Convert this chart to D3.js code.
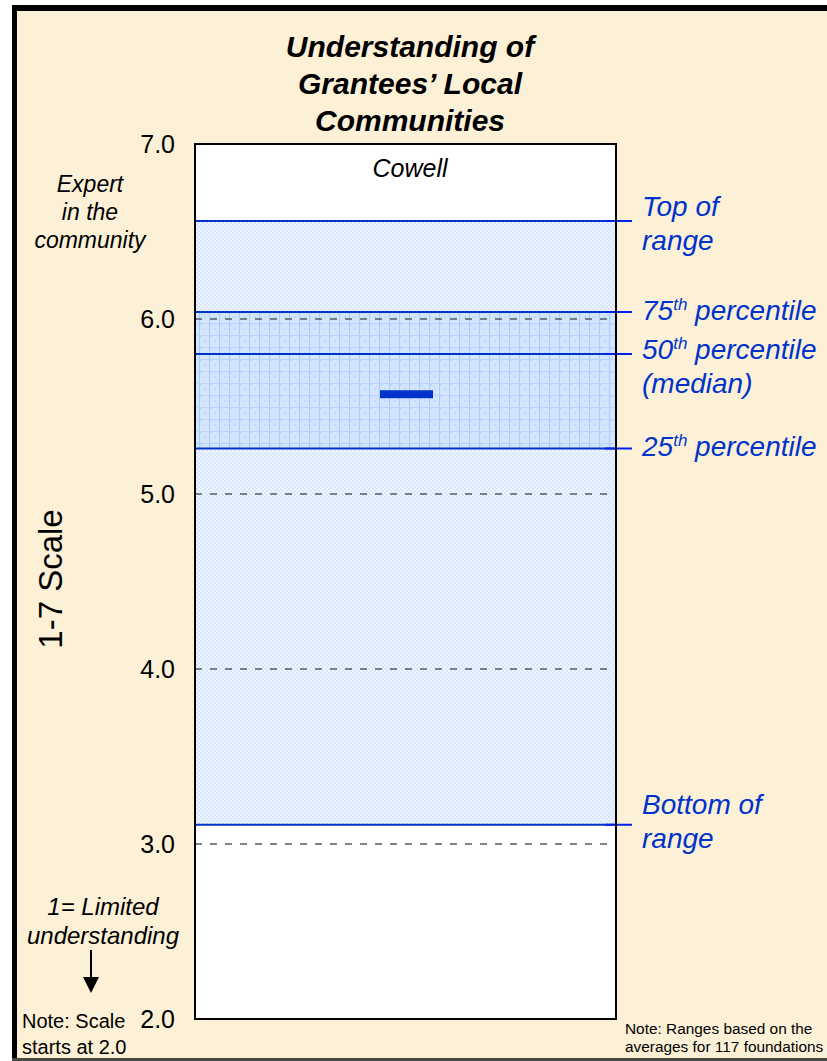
<!DOCTYPE html>
<html>
<head>
<meta charset="utf-8">
<script src="https://cdn.jsdelivr.net/npm/d3@7"></script>
<style>
  html, body { margin: 0; padding: 0; background: #ffffff; }
  svg { display: block; }
  text { font-family: Arial, "Liberation Sans", sans-serif; }
</style>
</head>
<body>
<script>
// Scale domain and gridlines
const yDomain = [2.0, 7.0];
const tickValues = [2.0, 3.0, 4.0, 5.0, 6.0, 7.0];
const gridValues = [3.0, 4.0, 5.0, 6.0];

// Range across all foundations
const rangeNames = ["Top of range", "75th percentile", "50th percentile", "25th percentile", "Bottom of range"];
const rangeValues = [6.56, 6.04, 5.80, 5.26, 3.11];

// Foundation score
const foundationName = "Cowell";
const foundationScore = 5.57;

const W = 827, H = 1061;
const box = { left: 195, right: 616 };
const blue = "#0033cc";

const svg = d3.select("body").append("svg").attr("width", W).attr("height", H);

const defs = svg.append("defs");
// fine dotted fill for the full range
const pLight = defs.append("pattern").attr("id", "lightFill")
  .attr("patternUnits", "userSpaceOnUse").attr("width", 4).attr("height", 4);
pLight.append("rect").attr("width", 4).attr("height", 4).attr("fill", "#eff5ff");
pLight.append("rect").attr("x", 0).attr("y", 0).attr("width", 2).attr("height", 2).attr("fill", "#d8e6fd");
pLight.append("rect").attr("x", 2).attr("y", 2).attr("width", 2).attr("height", 2).attr("fill", "#d8e6fd");

// gridded fill for the interquartile band
const pDark = defs.append("pattern").attr("id", "darkFill")
  .attr("patternUnits", "userSpaceOnUse").attr("width", 10).attr("height", 12);
pDark.append("rect").attr("width", 10).attr("height", 12).attr("fill", "#d3e5fd");
pDark.append("rect").attr("x", 0).attr("y", 0).attr("width", 2).attr("height", 2).attr("fill", "#c2dafd");
pDark.append("rect").attr("x", 4).attr("y", 4).attr("width", 2).attr("height", 2).attr("fill", "#c2dafd");
pDark.append("rect").attr("x", 9).attr("y", 0).attr("width", 1).attr("height", 12).attr("fill", "#a9cbfb");
pDark.append("rect").attr("x", 0).attr("y", 11).attr("width", 10).attr("height", 1).attr("fill", "#b8d4fc");

// page background and frame
svg.append("rect").attr("x", 12).attr("y", 5).attr("width", W - 12).attr("height", H - 5).attr("fill", "#fcf1d6");
svg.append("rect").attr("x", 12).attr("y", 5).attr("width", W - 12).attr("height", 6).attr("fill", "#000");
svg.append("rect").attr("x", 12).attr("y", 5).attr("width", 5).attr("height", H - 5).attr("fill", "#000");
svg.append("rect").attr("x", 12).attr("y", H - 3).attr("width", W - 12).attr("height", 3).attr("fill", "#4a4a44");

const y = d3.scaleLinear().domain(yDomain).range([1019, 144]);

// plot area
svg.append("rect").attr("x", box.left).attr("y", y(7)).attr("width", box.right - box.left)
  .attr("height", y(2) - y(7)).attr("fill", "#ffffff");

// shaded range bands
svg.append("rect").attr("x", box.left).attr("y", y(rangeValues[0]))
  .attr("width", box.right - box.left).attr("height", y(rangeValues[4]) - y(rangeValues[0]))
  .attr("fill", "url(#lightFill)");
svg.append("rect").attr("x", box.left).attr("y", y(rangeValues[1]))
  .attr("width", box.right - box.left).attr("height", y(rangeValues[3]) - y(rangeValues[1]))
  .attr("fill", "url(#darkFill)");

// dashed gridlines
svg.append("g").selectAll("line").data(gridValues).join("line")
  .attr("x1", box.left).attr("x2", box.right)
  .attr("y1", d => y(d)).attr("y2", d => y(d))
  .attr("stroke", "#555b63").attr("stroke-width", 1.4).attr("stroke-dasharray", "7,8");

// range lines with ticks out to the labels
const rg = svg.append("g");
rg.selectAll("line.rl").data(rangeValues).join("line").attr("class", "rl")
  .attr("x1", box.left).attr("x2", box.right)
  .attr("y1", d => y(d)).attr("y2", d => y(d))
  .attr("stroke", blue).attr("stroke-width", 2);
rg.selectAll("line.tk").data(rangeValues).join("line").attr("class", "tk")
  .attr("x1", 605).attr("x2", 632)
  .attr("y1", d => y(d)).attr("y2", d => y(d))
  .attr("stroke", "#0022ee").attr("stroke-width", 2);

// plot border
svg.append("rect").attr("x", box.left).attr("y", y(7)).attr("width", box.right - box.left)
  .attr("height", y(2) - y(7)).attr("fill", "none").attr("stroke", "#000").attr("stroke-width", 2);

// foundation marker
svg.append("rect").attr("x", 380).attr("width", 53)
  .attr("y", y(foundationScore) - 4).attr("height", 8).attr("fill", "#0033cc");

// y axis tick labels
const axis = d3.axisLeft(y).tickValues(tickValues).tickFormat(d3.format(".1f")).tickSize(0).tickPadding(20);
const ag = svg.append("g").attr("transform", `translate(${box.left},0)`).call(axis);
ag.select(".domain").remove();
ag.selectAll("text").attr("font-size", 25).attr("fill", "#000")
  .attr("font-family", "Arial, 'Liberation Sans', sans-serif");

// title
const title = ["Understanding of", "Grantees\u2019 Local", "Communities"];
svg.append("g").selectAll("text").data(title).join("text")
  .attr("x", 410).attr("y", (d, i) => 57 + i * 37)
  .attr("text-anchor", "middle").attr("font-size", 30).attr("font-weight", "bold")
  .attr("font-style", "italic").attr("fill", "#000").text(d => d);

svg.append("text").attr("x", 410).attr("y", 177).attr("text-anchor", "middle")
  .attr("font-size", 25).attr("font-style", "italic").attr("fill", "#000").text(foundationName);

// left annotations
const topNote = ["Expert", "in the", "community"];
svg.append("g").selectAll("text").data(topNote).join("text")
  .attr("x", 90).attr("y", (d, i) => 192 + i * 28)
  .attr("text-anchor", "middle").attr("font-size", 23).attr("font-style", "italic")
  .attr("fill", "#000").text(d => d);

svg.append("text").attr("transform", "translate(62,579) rotate(-90)")
  .attr("text-anchor", "middle").attr("font-size", 33).attr("fill", "#000").text("1-7 Scale");

const lowNote = ["1= Limited", "understanding"];
svg.append("g").selectAll("text").data(lowNote).join("text")
  .attr("x", 103).attr("y", (d, i) => 915 + i * 29)
  .attr("text-anchor", "middle").attr("font-size", 24).attr("font-style", "italic")
  .attr("fill", "#000").text(d => d);

svg.append("line").attr("x1", 91).attr("x2", 91).attr("y1", 950).attr("y2", 979)
  .attr("stroke", "#000").attr("stroke-width", 2);
svg.append("path").attr("d", "M83,977 L99,977 L91,993 Z").attr("fill", "#000");

const scaleNote = ["Note: Scale", "starts at 2.0"];
svg.append("g").selectAll("text").data(scaleNote).join("text")
  .attr("x", 22).attr("y", (d, i) => 1028 + i * 26)
  .attr("font-size", 20).attr("fill", "#000").text(d => d);

// right-hand range labels
const labels = [
  { lines: [["Top of"], ["range"]], y0: 216 },
  { lines: [["75", "th", " percentile"]], y0: 320 },
  { lines: [["50", "th", " percentile"], ["(median)"]], y0: 359 },
  { lines: [["25", "th", " percentile"]], y0: 456 },
  { lines: [["Bottom of"], ["range"]], y0: 814 }
];
const lg = svg.append("g");
labels.forEach(l => {
  l.lines.forEach((parts, i) => {
    const t = lg.append("text").attr("x", 642).attr("y", l.y0 + i * 34)
      .attr("font-size", 28).attr("font-style", "italic").attr("fill", blue);
    if (parts.length === 1) {
      t.text(parts[0]);
    } else {
      t.append("tspan").text(parts[0]);
      t.append("tspan").attr("font-size", 17).attr("dy", -10).text(parts[1]);
      t.append("tspan").attr("dy", 10).text(parts[2]);
    }
  });
});

const rangeNote = ["Note: Ranges based on the", "averages for 117 foundations"];
svg.append("g").selectAll("text").data(rangeNote).join("text")
  .attr("x", 625).attr("y", (d, i) => 1034 + i * 18)
  .attr("font-size", 15.4).attr("fill", "#000").text(d => d);
</script>
</body>
</html>
